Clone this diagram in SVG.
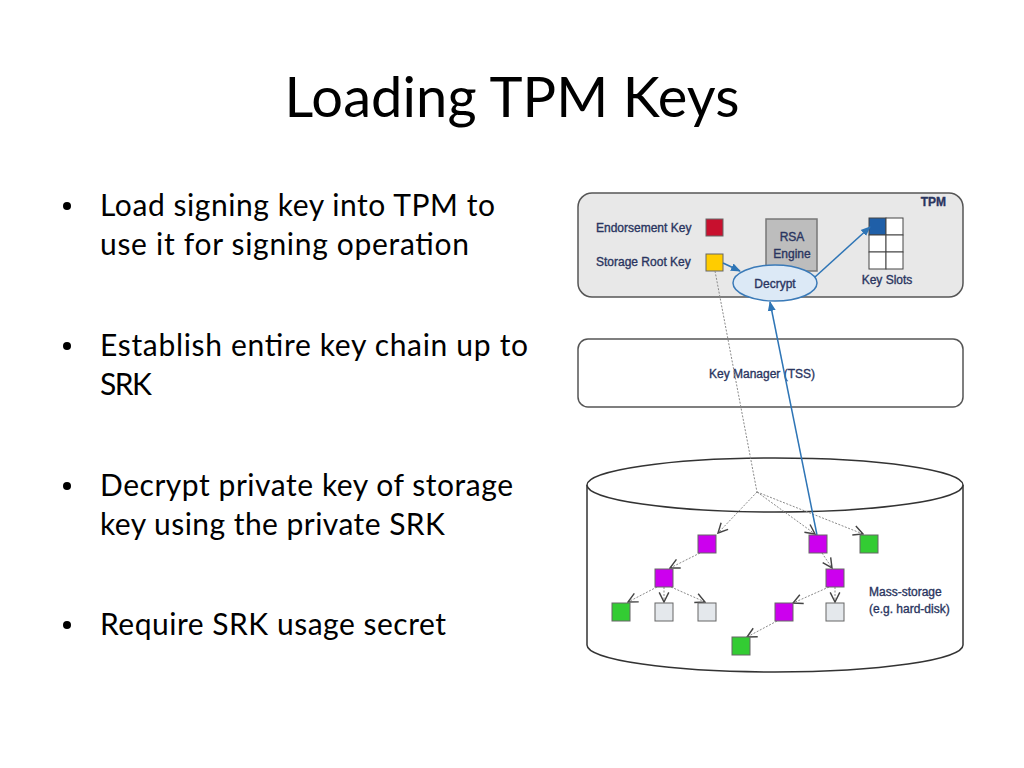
<svg xmlns="http://www.w3.org/2000/svg" width="1024" height="768" viewBox="0 0 1024 768">
<style>
.title{font-family:Lato,"Open Sans",sans-serif;font-size:56px;fill:#000}
.bul{font-family:Lato,"Open Sans",sans-serif;font-size:30px;fill:#000}
.lbl{font-family:"Liberation Sans",Arial,sans-serif;font-size:12px;fill:#2a3560;stroke:#2a3560;stroke-width:0.35}
.dot{stroke:#8a8a8a;stroke-width:1;stroke-dasharray:2,1.5;fill:none}
.blue{stroke:#2e75b6;stroke-width:1.5;fill:none}
.sq{stroke:#666;stroke-width:1}
.pur{fill:#cc00ee}.grn{fill:#33cc33}.gry{fill:#e4e8ec}
</style>
<defs>
<marker id="va" viewBox="0 0 10 10" refX="9" refY="5" markerWidth="12" markerHeight="12" markerUnits="userSpaceOnUse" orient="auto">
<path d="M1,1 L9,5 L1,9" fill="none" stroke="#444" stroke-width="1.2"/>
</marker>
<marker id="ba" viewBox="0 0 10 10" refX="9" refY="5" markerWidth="10" markerHeight="10" markerUnits="userSpaceOnUse" orient="auto">
<path d="M0,1 L10,5 L0,9 z" fill="#2e75b6"/>
</marker>
</defs>
<rect width="1024" height="768" fill="#fff"/>
<text class="title" x="512" y="117" text-anchor="middle" textLength="455">Loading TPM Keys</text>
<g id="bullets">
<circle cx="67" cy="206" r="4" fill="#000"/>
<circle cx="67" cy="346" r="4" fill="#000"/>
<circle cx="67" cy="486" r="4" fill="#000"/>
<circle cx="67" cy="625" r="4" fill="#000"/>
<text class="bul" x="100" y="216" textLength="395">Load signing key into TPM to</text>
<text class="bul" x="100" y="255" textLength="369">use it for signing operation</text>
<text class="bul" x="100" y="356" textLength="428">Establish entire key chain up to</text>
<text class="bul" x="100" y="395" textLength="52">SRK</text>
<text class="bul" x="100" y="496" textLength="413">Decrypt private key of storage</text>
<text class="bul" x="100" y="535" textLength="345">key using the private SRK</text>
<text class="bul" x="100" y="635" textLength="346">Require SRK usage secret</text>
</g>
<g id="tpm">
<rect x="578" y="193" width="385" height="104" rx="14" fill="#e8e8e8" stroke="#555" stroke-width="1.5"/>
<text class="lbl" x="946" y="206" text-anchor="end" font-weight="bold" font-size="11">TPM</text>
<text class="lbl" x="596" y="232" font-size="11.5">Endorsement Key</text>
<rect class="sq" x="706" y="219" width="17" height="17" fill="#c8102e"/>
<text class="lbl" x="596" y="266" font-size="11.5">Storage Root Key</text>
<rect class="sq" x="706" y="254" width="17" height="17" fill="#ffcc00"/>
</g>
<g id="rsa">
<rect x="766" y="219" width="51" height="52" fill="#bdbdbd" stroke="#777" stroke-width="1.5"/>
<text class="lbl" x="792" y="241" text-anchor="middle" font-size="11">RSA</text>
<text class="lbl" x="792" y="258" text-anchor="middle" font-size="11">Engine</text>
</g>
<g id="keyslots">
<rect x="869" y="218" width="17" height="17" fill="#1f5fa8" stroke="#444"/>
<rect x="886" y="218" width="17" height="17" fill="#fff" stroke="#444"/>
<rect x="869" y="235" width="17" height="17" fill="#fff" stroke="#444"/>
<rect x="886" y="235" width="17" height="17" fill="#fff" stroke="#444"/>
<rect x="869" y="252" width="17" height="17" fill="#fff" stroke="#444"/>
<rect x="886" y="252" width="17" height="17" fill="#fff" stroke="#444"/>
<text class="lbl" x="887" y="284" text-anchor="middle" font-size="11.5">Key Slots</text>
</g>
<g id="decrypt">
<ellipse cx="775" cy="283" rx="42" ry="18" fill="#dce9f6" stroke="#3a7ab8" stroke-width="1.5"/>
<text class="lbl" x="775" y="288" text-anchor="middle" font-size="11.5">Decrypt</text>
</g>
<g id="keymanager">
<rect x="578" y="339" width="385" height="68" rx="10" fill="#fff" stroke="#555" stroke-width="1.5"/>
<text class="lbl" x="762" y="378" text-anchor="middle" font-size="11.5">Key Manager (TSS)</text>
</g>
<g id="massstorage">
<path d="M587,485 L587,645 A188,27 0 0 0 963,645 L963,485" fill="#fff" stroke="#333" stroke-width="1.5"/>
<ellipse cx="775" cy="485" rx="188" ry="27" fill="#fff" stroke="#333" stroke-width="1.5"/>
<text class="lbl" x="869" y="596" font-size="11.5">Mass-storage</text>
<text class="lbl" x="869" y="613" font-size="11.5">(e.g. hard-disk)</text>
</g>
<g id="connectors">
<path class="dot" d="M715,271 L757,492"/>
<path class="dot" d="M757,492 L718,533" marker-end="url(#va)"/>
<path class="dot" d="M757,492 L815,534" marker-end="url(#va)"/>
<path class="dot" d="M757,492 L863,534" marker-end="url(#va)"/>
<path class="dot" d="M700,553 L670,568" marker-end="url(#va)"/>
<path class="dot" d="M822,553 L832,568" marker-end="url(#va)"/>
<path class="dot" d="M657,587 L628,602" marker-end="url(#va)"/>
<path class="dot" d="M664,587 L664,602" marker-end="url(#va)"/>
<path class="dot" d="M671,587 L705,602" marker-end="url(#va)"/>
<path class="dot" d="M829,587 L793,603" marker-end="url(#va)"/>
<path class="dot" d="M835,587 L835,602" marker-end="url(#va)"/>
<path class="dot" d="M777,621 L747,637" marker-end="url(#va)"/>
<path class="blue" d="M817,535 L770,302" marker-end="url(#ba)"/>
<path class="blue" d="M723,263 L740,271" marker-end="url(#ba)"/>
<path class="blue" d="M815,277 L870,227" marker-end="url(#ba)"/>
</g>
<g id="keys">
<rect class="sq pur" x="698" y="535" width="18" height="18"/>
<rect class="sq pur" x="809" y="535" width="18" height="18"/>
<rect class="sq grn" x="860" y="535" width="18" height="18"/>
<rect class="sq pur" x="655" y="569" width="18" height="18"/>
<rect class="sq pur" x="826" y="569" width="18" height="18"/>
<rect class="sq grn" x="612" y="603" width="18" height="18"/>
<rect class="sq gry" x="655" y="603" width="18" height="18"/>
<rect class="sq gry" x="698" y="603" width="18" height="18"/>
<rect class="sq pur" x="775" y="603" width="18" height="18"/>
<rect class="sq gry" x="826" y="603" width="18" height="18"/>
<rect class="sq grn" x="732" y="637" width="18" height="18"/>
</g>
</svg>
